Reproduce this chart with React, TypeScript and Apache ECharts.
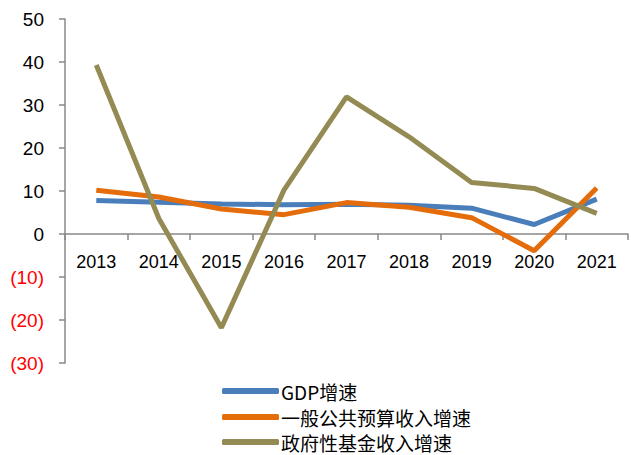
import React, { useEffect, useRef } from "react";
import * as echarts from "echarts";

const categories = ["2013", "2014", "2015", "2016", "2017", "2018", "2019", "2020", "2021"];
const gdpGrowth = [7.8, 7.4, 7.0, 6.8, 6.9, 6.7, 6.0, 2.2, 8.1];
const budgetGrowth = [10.2, 8.6, 5.8, 4.5, 7.3, 6.2, 3.8, -3.9, 10.7];
const fundGrowth = [39.3, 3.6, -21.8, 10.2, 31.9, 22.6, 12.0, 10.6, 4.8];
const seriesNames = ["GDP增速", "一般公共预算收入增速", "政府性基金收入增速"];

export default function App() {
  const ref = useRef<HTMLDivElement>(null);
  useEffect(() => {
    document.body.style.margin = "0";
    const chart = echarts.init(ref.current!, null, { renderer: "svg" });
    const font = "'Liberation Sans', 'Noto Sans CJK SC', sans-serif";
    const legendTops = [381, 407, 432];
    chart.setOption({
      animation: false,
      backgroundColor: "#ffffff",
      textStyle: { fontFamily: font },
      grid: { left: 65, right: 3, top: 19, bottom: 92, containLabel: false },
      legend: seriesNames.map((name, i) => ({
        orient: "vertical",
        left: 222,
        top: legendTops[i],
        padding: 0,
        itemWidth: 57,
        itemHeight: 6,
        icon: "roundRect",
        data: [name],
        textStyle: { fontSize: 19, lineHeight: 20, color: "#000", fontFamily: "'Noto Sans CJK SC', sans-serif", padding: [0, 0, 0, -3] },
      })),
      xAxis: {
        type: "category",
        data: categories,
        boundaryGap: true,
        offset: -129,
        axisLine: { onZero: false, lineStyle: { color: "#888", width: 1.5 } },
        axisTick: { show: true, length: 6, lineStyle: { color: "#888", width: 1.5 } },
        axisLabel: { color: "#000", fontSize: 18, margin: 19, fontFamily: font },
        splitLine: { show: false },
      },
      yAxis: {
        type: "value",
        min: -30,
        max: 50,
        interval: 10,
        axisLine: { show: true, lineStyle: { color: "#888", width: 1.5 } },
        axisTick: { show: true, inside: false, length: 6, lineStyle: { color: "#888", width: 1.5 } },
        splitLine: { show: false },
        axisLabel: {
          fontSize: 19,
          margin: 21,
          align: "right",
          fontFamily: font,
          formatter: (v: number) => (v < 0 ? `(${-v})` : `${v}`),
          color: (v: any) => (Number(v) < 0 ? "#ff0000" : "#000000"),
        },
      },
      series: [
        { name: seriesNames[0], type: "line", data: gdpGrowth, symbol: "none", lineStyle: { width: 5, color: "#4a7ebb" }, itemStyle: { color: "#4a7ebb" } },
        { name: seriesNames[1], type: "line", data: budgetGrowth, symbol: "none", lineStyle: { width: 5, color: "#e46c0a" }, itemStyle: { color: "#e46c0a" } },
        { name: seriesNames[2], type: "line", data: fundGrowth, symbol: "none", lineStyle: { width: 5, color: "#948a54" }, itemStyle: { color: "#948a54" } },
      ],
    });
    return () => chart.dispose();
  }, []);
  return <div ref={ref} style={{ width: 631, height: 455 }} />;
}
